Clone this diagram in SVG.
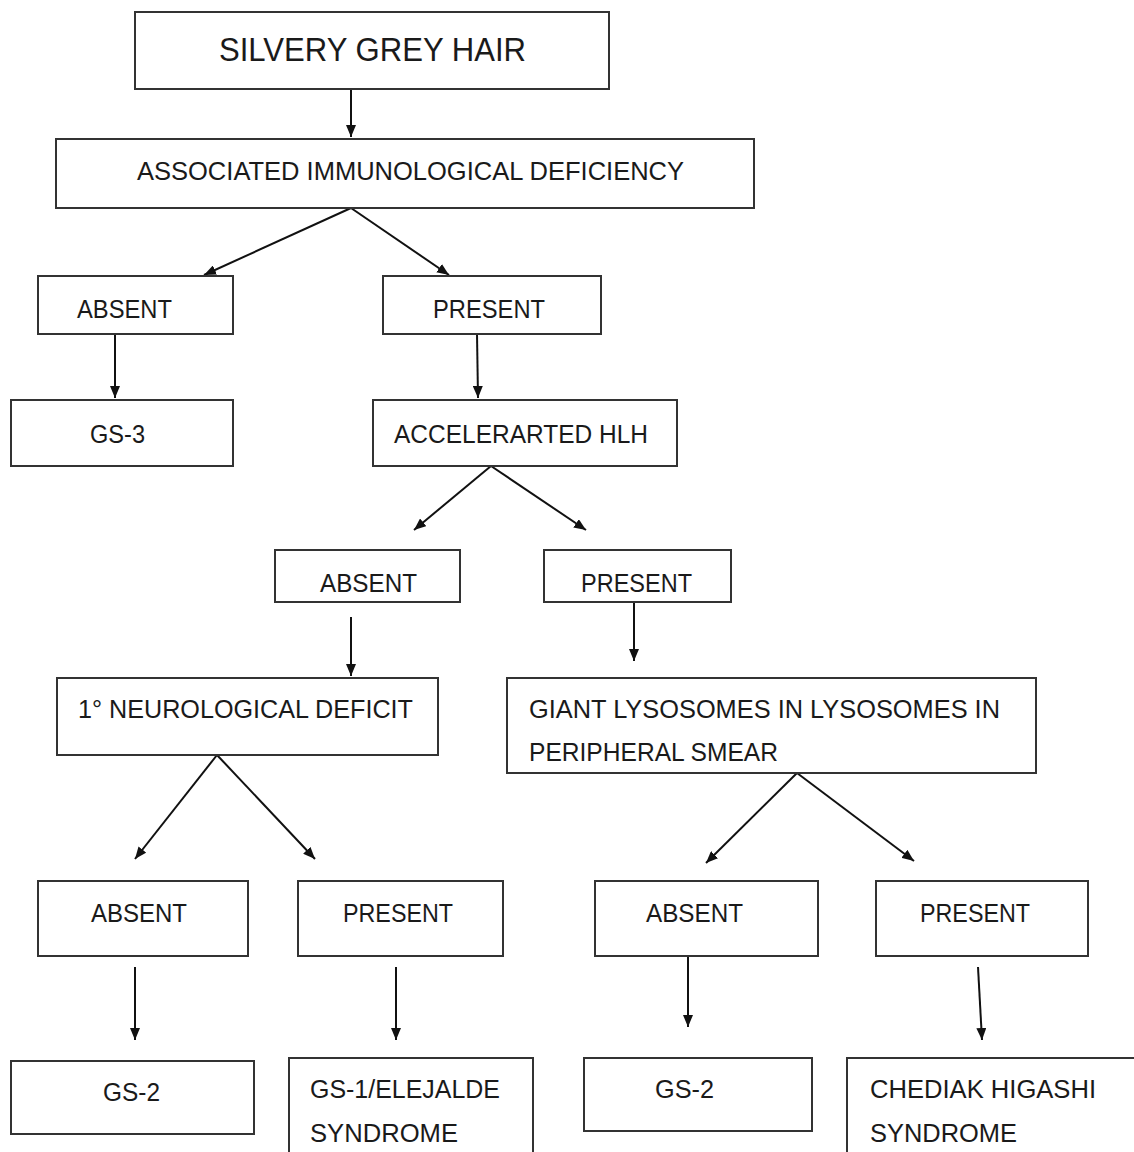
<svg xmlns="http://www.w3.org/2000/svg" width="1134" height="1152" viewBox="0 0 1134 1152">
<style>
.b{fill:#fff;stroke:#333;stroke-width:2}
.t{font-family:"Liberation Sans",Arial,sans-serif;font-size:25px;fill:#1a1a1a}
.c{stroke:#111;stroke-width:2;fill:none;marker-end:url(#ah)}
</style>
<defs>
<marker id="ah" viewBox="0 0 12 10" refX="12" refY="5" markerWidth="12" markerHeight="10" markerUnits="userSpaceOnUse" orient="auto">
<path d="M0,0 L12,5 L0,10 Z" fill="#111"/>
</marker>
</defs>
<rect width="1134" height="1152" fill="#fff"/>
<g id="connectors">
<line class="c" x1="351" y1="89" x2="351" y2="137"/>
<line class="c" x1="351" y1="208" x2="204" y2="275"/>
<line class="c" x1="351" y1="208" x2="449" y2="275"/>
<line class="c" x1="115" y1="334" x2="115" y2="398"/>
<line class="c" x1="477" y1="334" x2="478" y2="398"/>
<line class="c" x1="491" y1="466" x2="414" y2="530"/>
<line class="c" x1="491" y1="466" x2="586" y2="530"/>
<line class="c" x1="351" y1="617" x2="351" y2="676"/>
<line class="c" x1="634" y1="602" x2="634" y2="661"/>
<line class="c" x1="217" y1="755" x2="135" y2="859"/>
<line class="c" x1="217" y1="755" x2="315" y2="859"/>
<line class="c" x1="797" y1="773" x2="706" y2="863"/>
<line class="c" x1="797" y1="773" x2="914" y2="861"/>
<line class="c" x1="135" y1="967" x2="135" y2="1040"/>
<line class="c" x1="396" y1="967" x2="396" y2="1040"/>
<line class="c" x1="688" y1="956" x2="688" y2="1027"/>
<line class="c" x1="978" y1="967" x2="982" y2="1040"/>
</g>
<g id="n1"><rect class="b" x="135" y="12" width="474" height="77"/><text class="t" x="219" y="61" font-size="34" textLength="307" lengthAdjust="spacingAndGlyphs" style="font-size:34px">SILVERY GREY HAIR</text></g>
<g id="n2"><rect class="b" x="56" y="139" width="698" height="69"/><text class="t" x="137" y="180" textLength="547" lengthAdjust="spacingAndGlyphs">ASSOCIATED IMMUNOLOGICAL DEFICIENCY</text></g>
<g id="n3"><rect class="b" x="38" y="276" width="195" height="58"/><text class="t" x="77" y="318" textLength="95" lengthAdjust="spacingAndGlyphs">ABSENT</text></g>
<g id="n4"><rect class="b" x="383" y="276" width="218" height="58"/><text class="t" x="433" y="318" textLength="112" lengthAdjust="spacingAndGlyphs">PRESENT</text></g>
<g id="n5"><rect class="b" x="11" y="400" width="222" height="66"/><text class="t" x="90" y="443" textLength="55" lengthAdjust="spacingAndGlyphs">GS-3</text></g>
<g id="n6"><rect class="b" x="373" y="400" width="304" height="66"/><text class="t" x="394" y="443" textLength="254" lengthAdjust="spacingAndGlyphs">ACCELERARTED HLH</text></g>
<g id="n7"><rect class="b" x="275" y="550" width="185" height="52"/><text class="t" x="320" y="592" textLength="97" lengthAdjust="spacingAndGlyphs">ABSENT</text></g>
<g id="n8"><rect class="b" x="544" y="550" width="187" height="52"/><text class="t" x="581" y="592" textLength="111" lengthAdjust="spacingAndGlyphs">PRESENT</text></g>
<g id="n9"><rect class="b" x="57" y="678" width="381" height="77"/><text class="t" x="78" y="718" textLength="335" lengthAdjust="spacingAndGlyphs">1° NEUROLOGICAL DEFICIT</text></g>
<g id="n10"><rect class="b" x="507" y="678" width="529" height="95"/><text class="t" x="529" y="718" textLength="471" lengthAdjust="spacingAndGlyphs">GIANT LYSOSOMES IN LYSOSOMES IN</text><text class="t" x="529" y="761" textLength="249" lengthAdjust="spacingAndGlyphs">PERIPHERAL SMEAR</text></g>
<g id="n11"><rect class="b" x="38" y="881" width="210" height="75"/><text class="t" x="91" y="922" textLength="96" lengthAdjust="spacingAndGlyphs">ABSENT</text></g>
<g id="n12"><rect class="b" x="298" y="881" width="205" height="75"/><text class="t" x="343" y="922" textLength="110" lengthAdjust="spacingAndGlyphs">PRESENT</text></g>
<g id="n13"><rect class="b" x="595" y="881" width="223" height="75"/><text class="t" x="646" y="922" textLength="97" lengthAdjust="spacingAndGlyphs">ABSENT</text></g>
<g id="n14"><rect class="b" x="876" y="881" width="212" height="75"/><text class="t" x="920" y="922" textLength="110" lengthAdjust="spacingAndGlyphs">PRESENT</text></g>
<g id="n15"><rect class="b" x="11" y="1061" width="243" height="73"/><text class="t" x="103" y="1101" textLength="57" lengthAdjust="spacingAndGlyphs">GS-2</text></g>
<g id="n16"><rect class="b" x="289" y="1058" width="244" height="110"/><text class="t" x="310" y="1098" textLength="190" lengthAdjust="spacingAndGlyphs">GS-1/ELEJALDE</text><text class="t" x="310" y="1142" textLength="148" lengthAdjust="spacingAndGlyphs">SYNDROME</text></g>
<g id="n17"><rect class="b" x="584" y="1058" width="228" height="73"/><text class="t" x="655" y="1098" textLength="59" lengthAdjust="spacingAndGlyphs">GS-2</text></g>
<g id="n18"><rect class="b" x="847" y="1058" width="300" height="110"/><text class="t" x="870" y="1098" textLength="226" lengthAdjust="spacingAndGlyphs">CHEDIAK HIGASHI</text><text class="t" x="870" y="1142" textLength="147" lengthAdjust="spacingAndGlyphs">SYNDROME</text></g>
</svg>
